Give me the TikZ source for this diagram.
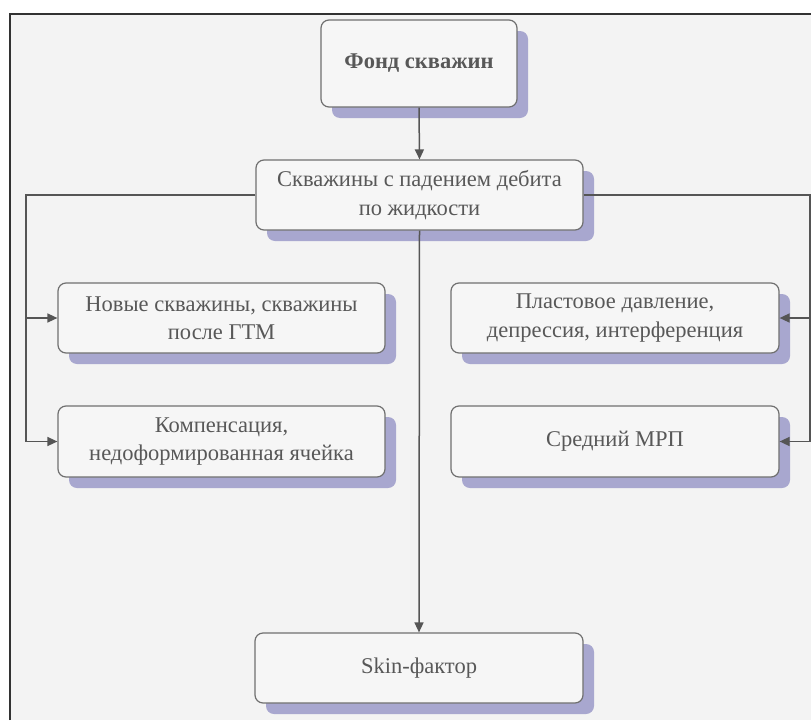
\documentclass[tikz,border=0pt]{standalone}
\usepackage{fontspec}
\setmainfont{Liberation Serif}
\usetikzlibrary{arrows.meta,shadows}
\definecolor{bgc}{RGB}{243,243,243}
\definecolor{boxc}{RGB}{246,246,246}
\definecolor{bordc}{RGB}{112,112,112}
\definecolor{shadc}{RGB}{168,167,207}
\definecolor{textc}{RGB}{88,88,88}
\definecolor{linec}{RGB}{85,85,85}
\definecolor{framec}{RGB}{50,50,50}
\tikzset{
  box/.style={draw=bordc, fill=boxc, rounded corners=8pt, line width=1.2pt,
    align=center, text=textc, inner sep=0pt,
    font=\fontsize{22.5}{28.5}\selectfont,
    minimum width=327pt, minimum height=70pt,
    drop shadow={shadow xshift=11pt, shadow yshift=-11pt, fill=shadc, opacity=1}},
  conn/.style={draw=linec, line width=1.5pt, -{Triangle[length=10pt,width=9pt]}},
  plain/.style={draw=linec, line width=1.5pt}
}
\begin{document}
\begin{tikzpicture}[x=1pt,y=-1pt]
\useasboundingbox (0,0) rectangle (811,720);
\fill[white] (0,0) rectangle (811,720);
\fill[bgc] (10,13.5) rectangle (811,720);
\draw[framec, line width=2pt] (10,720) -- (10,13.5) -- (811,13.5);

\node[box, minimum width=196pt, minimum height=87pt, font=\fontsize{22.5}{28.5}\selectfont\bfseries] (fond) at (419,63.5) {Фонд скважин};
\node[box] (skv) at (419.5,195) {Скважины с падением дебита\\по жидкости};
\node[box] (novye) at (221.5,318) {Новые скважины, скважины\\после ГТМ};
\node[box, minimum height=71pt] (komp) at (221.5,441.5) {Компенсация,\\недоформированная ячейка};
\node[box, minimum width=328pt] (plast) at (615,318) {Пластовое давление,\\депрессия, интерференция};
\node[box, minimum width=328pt, minimum height=71pt] (mrp) at (615,441.5) {Средний МРП};
\node[box, minimum width=328pt] (skin) at (419,668) {Skin-фактор};

\coordinate (lt) at (26,195);
\coordinate (rt) at (810,195);

\draw[conn] (fond.south) -- (skv.north);
\draw[conn] (skv.south) -- (skin.north);
\draw[conn] (skv.west) -- (lt) |- (novye.west);
\draw[conn] (lt) |- (komp.west);
\draw[conn] (skv.east) -- (rt) |- (plast.east);
\draw[conn] (rt) |- (mrp.east);
\end{tikzpicture}
\end{document}
